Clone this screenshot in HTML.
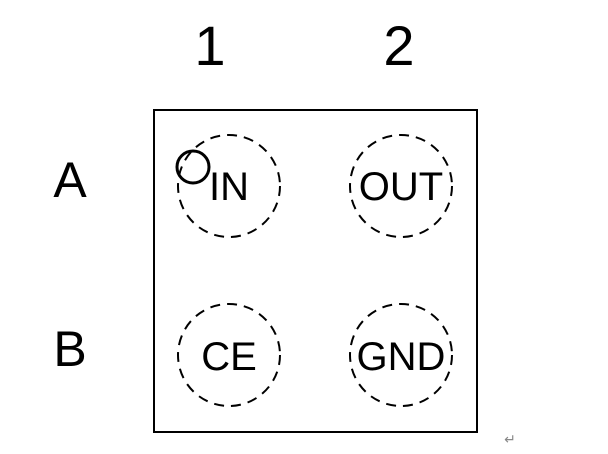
<!DOCTYPE html>
<html><head><style>body{margin:0;background:#fff}</style></head><body>
<svg width="608" height="449" xmlns="http://www.w3.org/2000/svg" font-family="Liberation Sans, sans-serif">
<rect width="608" height="449" fill="#fff"/>
<text x="210" y="65" font-size="56" text-anchor="middle">1</text>
<text x="399" y="65" font-size="56" text-anchor="middle">2</text>
<text x="70" y="197" font-size="50" text-anchor="middle">A</text>
<text x="70" y="366" font-size="50" text-anchor="middle">B</text>
<rect x="154" y="110" width="323" height="322" fill="none" stroke="#000" stroke-width="2"/>
<g fill="none" stroke="#000" stroke-width="2" stroke-dasharray="10,7">
<circle cx="229" cy="186" r="51"/>
<circle cx="401" cy="186" r="51"/>
<circle cx="229" cy="355" r="51"/>
<circle cx="401" cy="355" r="51"/>
</g>
<circle cx="193" cy="167" r="16" fill="none" stroke="#000" stroke-width="3"/>
<g font-size="40" text-anchor="middle">
<text x="229" y="200">IN</text>
<text x="401" y="200">OUT</text>
<text x="229" y="370">CE</text>
<text x="401" y="370">GND</text>
</g>
<text x="510" y="444" font-size="14" fill="#888" text-anchor="middle">↵</text>
</svg>
</body></html>
